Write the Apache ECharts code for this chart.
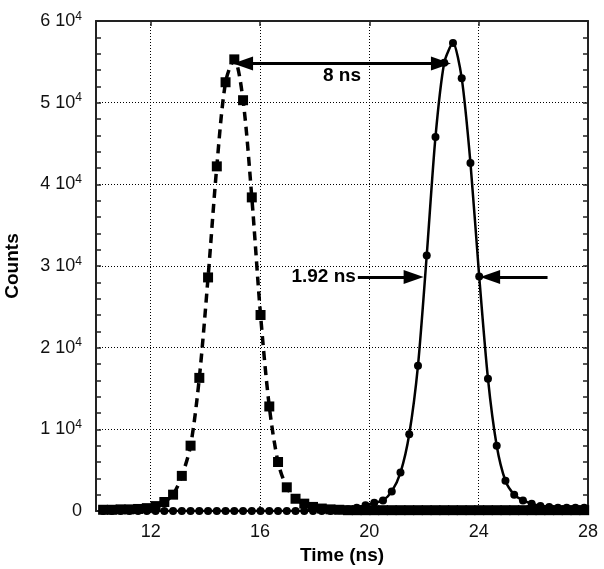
<!DOCTYPE html>
<html>
<head>
<meta charset="utf-8">
<script src="https://cdn.jsdelivr.net/npm/echarts@6/dist/echarts.min.js"></script>
<style>
html,body{margin:0;padding:0;background:#fff;}
#chart{width:604px;height:569px;}
</style>
</head>
<body>
<div id="chart"></div>
<script>
// ---- data ----
const timeNs = [10.26, 10.58, 10.90, 11.22, 11.54, 11.86, 12.18, 12.50, 12.82, 13.14,
  13.46, 13.78, 14.10, 14.42, 14.74, 15.06, 15.38, 15.70, 16.02, 16.34,
  16.66, 16.98, 17.30, 17.62, 17.94, 18.26, 18.58, 18.90, 19.22, 19.54,
  19.86, 20.18, 20.50, 20.82, 21.14, 21.46, 21.78, 22.10, 22.42, 22.74,
  23.06, 23.38, 23.70, 24.02, 24.34, 24.66, 24.98, 25.30, 25.62, 25.94,
  26.26, 26.58, 26.90, 27.22, 27.54, 27.86];
const squareCounts = [150, 150, 200, 200, 250, 350, 600, 1100, 2000, 4300,
  8000, 16300, 28600, 42200, 52500, 55300, 50300, 38400, 24000, 12800,
  6000, 2900, 1500, 900, 500, 300, 200, 150, 100, 100,
  100, 100, 100, 100, 100, 100, 100, 100, 100, 100,
  100, 100, 100, 100, 100, 100, 100, 100, 100, 100,
  100, 100, 100, 100, 100, 100];
const circleCounts = [0, 0, 0, 0, 0, 0, 0, 0, 0, 0,
  0, 0, 0, 0, 0, 0, 0, 0, 0, 0,
  0, 0, 0, 0, 0, 0, 0, 100, 200, 400,
  700, 1000, 1300, 2400, 4700, 9400, 17800, 31300, 45800, 54900,
  57300, 53000, 42600, 28700, 16200, 8000, 3700, 2000, 1300, 900,
  600, 500, 400, 400, 400, 400];
const xTickValues = [12, 16, 20, 24, 28];
const yTickStep = 10000;
// annotation arrows (data space): [startX, endX, y]
const peakArrow = [15.38, 22.62, 54800];
const fwhmLeftArrow = [19.58, 21.62, 28640];
const fwhmRightArrow = [26.52, 24.42, 28640];
const peakLabel = '8 ns';
const fwhmLabel = '1.92 ns';

// ---- chart ----
const FONT = '"Liberation Sans", Arial, sans-serif';
const AX = '#222';
const chart = echarts.init(document.getElementById('chart'), null, {renderer: 'canvas'});

const sqData = timeNs.map((t, i) => [t, squareCounts[i]]);
const ciData = timeNs.map((t, i) => [t, circleCounts[i]]);

const labelStyle = {show: true, color: '#000', fontSize: 19, fontWeight: 'bold', fontFamily: FONT};

chart.setOption({
  animation: false,
  backgroundColor: '#fff',
  grid: {left: 96, right: 16, top: 21, bottom: 58, containLabel: false, outerBoundsMode: 'none'},
  xAxis: [{
    type: 'value', position: 'bottom', min: 10, max: 28,
    axisLine: {show: true, onZero: false, lineStyle: {color: AX, width: 2}},
    axisTick: {show: true, inside: true, length: 5, customValues: xTickValues, lineStyle: {color: AX, width: 1.5}},
    axisLabel: {show: true, customValues: xTickValues, fontSize: 18, color: '#111', margin: 12, fontFamily: FONT},
    splitLine: {show: true, lineStyle: {type: [1, 2], color: '#000', width: 1}},
    name: 'Time (ns)', nameLocation: 'middle', nameGap: 32,
    nameTextStyle: {fontWeight: 'bold', fontSize: 19, color: '#000', fontFamily: FONT}
  }, {
    type: 'value', position: 'top', min: 10, max: 28,
    axisLine: {show: true, onZero: false, lineStyle: {color: AX, width: 2}},
    axisTick: {show: true, inside: true, length: 5, customValues: xTickValues, lineStyle: {color: AX, width: 1.5}},
    axisLabel: {show: false},
    splitLine: {show: false}
  }],
  yAxis: [{
    type: 'value', position: 'left', min: 0, max: 60000, interval: yTickStep,
    axisLine: {show: true, onZero: false, lineStyle: {color: AX, width: 2}},
    axisTick: {show: true, inside: true, length: 5, lineStyle: {color: AX, width: 1.5}},
    minorTick: {show: true, splitNumber: 5, length: 5, lineStyle: {color: AX, width: 1.5}},
    splitLine: {show: true, lineStyle: {type: [1, 2], color: '#000', width: 1}},
    axisLabel: {
      margin: 14, color: '#111', fontFamily: FONT,
      formatter: v => v === 0 ? '{n|0}' : '{n|' + (v / 10000) + ' 10}{s|4}',
      rich: {
        n: {fontSize: 18, color: '#111', fontFamily: FONT},
        s: {fontSize: 12, color: '#111', fontFamily: FONT, padding: [0, 0, 9, 0]}
      }
    },
    name: 'Counts', nameLocation: 'middle', nameGap: 74, nameRotate: 90,
    nameTextStyle: {fontWeight: 'bold', fontSize: 19, color: '#000', fontFamily: FONT}
  }, {
    type: 'value', position: 'right', min: 0, max: 60000, interval: yTickStep,
    axisLine: {show: true, onZero: false, lineStyle: {color: AX, width: 2}},
    axisTick: {show: true, inside: true, length: 5, lineStyle: {color: AX, width: 1.5}},
    minorTick: {show: true, splitNumber: 5, length: 5, lineStyle: {color: AX, width: 1.5}},
    splitLine: {show: false},
    axisLabel: {show: false}
  }],
  series: [{
    type: 'line', name: 'early', xAxisIndex: 0, yAxisIndex: 0,
    data: sqData, smooth: 0.3,
    symbol: 'rect', symbolSize: 10,
    itemStyle: {color: '#000'},
    lineStyle: {color: '#000', width: 3.5, type: [9, 6]},
    z: 3
  }, {
    type: 'line', name: 'late', xAxisIndex: 0, yAxisIndex: 0,
    data: ciData, smooth: 0.25,
    symbol: 'circle', symbolSize: 8,
    itemStyle: {color: '#000'},
    lineStyle: {color: '#000', width: 2.5, type: 'solid'},
    z: 4,
    markLine: {
      silent: true, animation: false,
      symbol: ['none', 'triangle'], symbolSize: [14, 20],
      lineStyle: {color: '#000', width: 3, type: 'solid'},
      label: {show: false},
      data: [
        [{coord: [peakArrow[0], peakArrow[2]], symbol: 'triangle',
          label: Object.assign({}, labelStyle, {position: 'insideMiddleBottom', formatter: peakLabel, distance: 3})},
         {coord: [peakArrow[1], peakArrow[2]], symbol: 'triangle'}],
        [{coord: [fwhmLeftArrow[0], fwhmLeftArrow[2]], symbol: 'none',
          label: Object.assign({}, labelStyle, {position: 'start', formatter: fwhmLabel, distance: 2})},
         {coord: [fwhmLeftArrow[1], fwhmLeftArrow[2]], symbol: 'triangle'}],
        [{coord: [fwhmRightArrow[0], fwhmRightArrow[2]], symbol: 'none'},
         {coord: [fwhmRightArrow[1], fwhmRightArrow[2]], symbol: 'triangle'}]
      ]
    }
  }]
});
</script>
</body>
</html>
